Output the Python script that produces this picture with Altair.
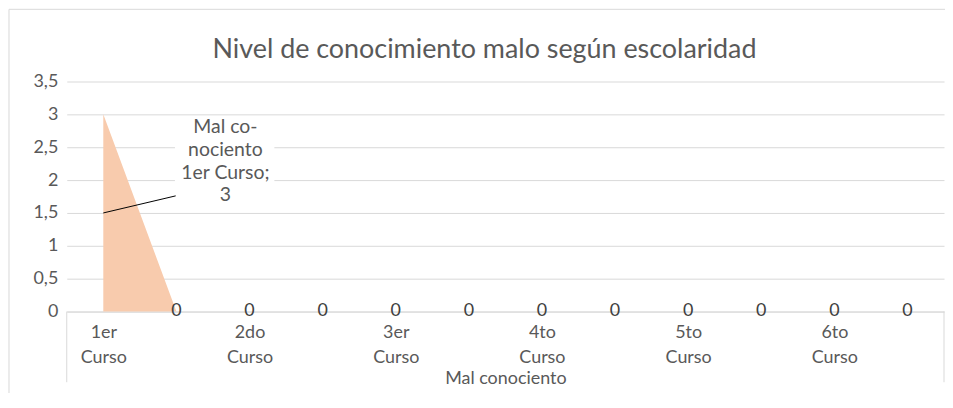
import json
import altair as alt
import pandas as pd

# ---- data ----
title_text = "Nivel de conocimiento malo según escolaridad"
group_label = "Mal conociento"
categories = ["1er Curso", "", "2do Curso", "", "3er Curso", "", "4to Curso", "",
              "5to Curso", "", "6to Curso", ""]
values = [3, 0, 0, 0, 0, 0, 0, 0, 0, 0, 0, 0]
y_ticks = [0, 0.5, 1, 1.5, 2, 2.5, 3, 3.5]

# annotation (callout for the first point)
callout_lines = ["Mal co-", "nociento", "1er Curso;", "3"]
callout_pos = {"x": 1.67, "y": 2.72}
callout_box = {"x": 0.98, "x2": 2.34, "y": 1.6, "y2": 2.95}
leader = {"x": 0.0, "y": 1.5, "x2": 0.99, "y2": 1.76}

W, H = 881, 231
FONT = "Lato"
GRID = "#d9d9d9"
TXT = "#595959"
FS = 18

df = pd.DataFrame({"idx": list(range(len(categories))), "cat": categories, "value": values})
df_zero = df[df["idx"] > 0]

xs = alt.Scale(domain=[-0.5, len(categories) - 0.5], nice=False, zero=False)
ys = alt.Scale(domain=[0, 3.5], nice=False)

labels_js = json.dumps([c.split(" ") if c else "" for c in categories])

x_axis = alt.Axis(
    values=list(range(len(categories))),
    labelExpr=f"{labels_js}[datum.value]",
    grid=False, ticks=False, domain=True, domainColor=GRID, domainWidth=1,
    labelFont=FONT, labelFontSize=FS, labelColor=TXT, labelPadding=12,
    labelLineHeight=25, labelOverlap=False, labelFlush=False, labelBound=False,
    title=group_label, titleFont=FONT, titleFontSize=FS, titleColor=TXT,
    titleFontWeight="normal", titleY=72, titleX=W / 2, titleBaseline="alphabetic",
)
y_axis = alt.Axis(
    values=y_ticks,
    labelExpr="replace(format(datum.value, '~g'), '.', ',')",
    grid=True, gridColor=GRID, gridWidth=1, domain=False, ticks=False,
    labelOverlap=False, labelFlush=False,
    labelFont=FONT, labelFontSize=FS, labelColor=TXT, labelPadding=9, title=None,
)


def X(field):
    return alt.X(field, scale=xs, axis=x_axis)


def Y(field):
    return alt.Y(field, scale=ys, axis=y_axis)


area = alt.Chart(df).mark_area(color="#F8CBAD", opacity=1).encode(
    x=X("idx:Q"), y=Y("value:Q"),
)

zeros = alt.Chart(df_zero).mark_text(
    font=FONT, fontSize=FS, color="#404040", baseline="middle", align="center", dy=-1
).encode(
    x=X("idx:Q"), y=Y("value:Q"), text=alt.Text("value:Q"),
)

box = alt.Chart(pd.DataFrame([callout_box])).mark_rect(color="white").encode(
    x=X("x:Q"), x2="x2:Q", y=Y("y:Q"), y2="y2:Q",
)

callout = alt.Chart(pd.DataFrame([{"x": callout_pos["x"], "y": callout_pos["y"],
                                   "t": callout_lines}])).mark_text(
    font=FONT, fontSize=19.5, color=TXT, align="center", baseline="alphabetic", lineHeight=23
).encode(
    x=X("x:Q"), y=Y("y:Q"), text="t",
)

lead = alt.Chart(pd.DataFrame([leader])).mark_rule(color="black", strokeWidth=1).encode(
    x=X("x:Q"), x2="x2:Q", y=Y("y:Q"), y2="y2:Q",
)

seps = alt.Chart(pd.DataFrame({"x": [-0.5, len(categories) - 0.5]})).mark_rule(
    color=GRID, strokeWidth=1
).encode(
    x=X("x:Q"), y=alt.value(H), y2=alt.value(H + 71),
)

one = pd.DataFrame({"a": [0]})
border_top = alt.Chart(one).mark_rule(color=GRID, strokeWidth=1).encode(
    x=alt.value(-58), x2=alt.value(W + 6), y=alt.value(-72.5)
)
border_left = alt.Chart(one).mark_rule(color=GRID, strokeWidth=1).encode(
    x=alt.value(-58), y=alt.value(-72.5), y2=alt.value(H + 90)
)

title = alt.Chart(pd.DataFrame({"t": [title_text]})).mark_text(
    font=FONT, fontSize=27, color=TXT, align="center", baseline="alphabetic"
).encode(
    x=alt.value(419.5), y=alt.value(-24), text="t"
)

chart = alt.layer(
    area, seps, zeros, box, callout, lead, border_top, border_left, title
).properties(
    width=W, height=H,
    autosize=alt.AutoSizeParams(type="none"),
    padding={"left": 59, "top": 73, "right": 1, "bottom": 81},
    background="white",
).configure_view(stroke=None)

chart.save("out.html", embed_options={"renderer": "svg", "actions": False})
